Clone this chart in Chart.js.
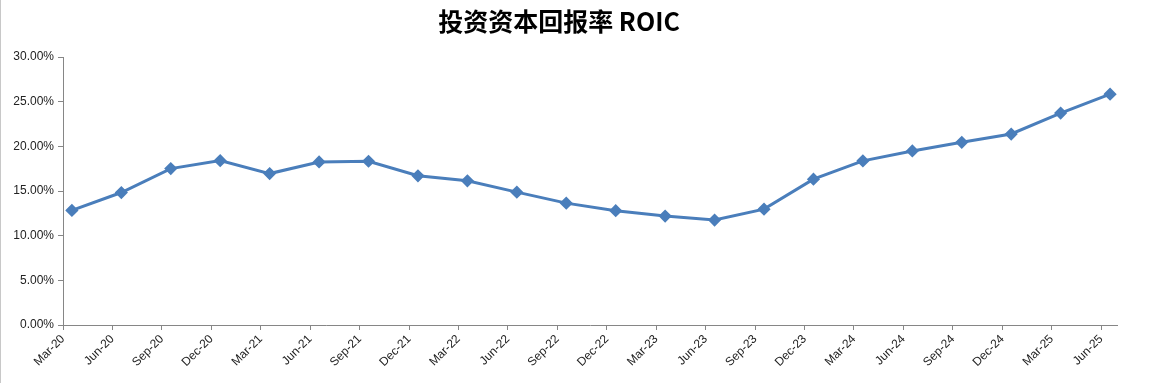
<!DOCTYPE html>
<html>
<head>
<meta charset="utf-8">
<script src="https://cdn.jsdelivr.net/npm/chart.js@4.4.1/dist/chart.umd.min.js"></script>
<style>
    html, body { margin: 0; padding: 0; background: #fff; }
    #wrap { position: relative; width: 1157px; height: 383px; border-left: 1px solid #c8c8c8; box-sizing: border-box; }
</style>
</head>
<body>
<div id="wrap"><canvas id="roicChart"></canvas></div>
<script>
// --- データ ---
const quarters = ['Mar-20', 'Jun-20', 'Sep-20', 'Dec-20', 'Mar-21', 'Jun-21', 'Sep-21', 'Dec-21',
    'Mar-22', 'Jun-22', 'Sep-22', 'Dec-22', 'Mar-23', 'Jun-23', 'Sep-23', 'Dec-23',
    'Mar-24', 'Jun-24', 'Sep-24', 'Dec-24', 'Mar-25', 'Jun-25'];
const roicValues = [12.83, 14.83, 17.51, 18.40, 16.95, 18.25, 18.33, 16.70,
    16.14, 14.87, 13.64, 12.79, 12.19, 11.75, 12.97, 16.32,
    18.37, 19.48, 20.45, 21.38, 23.72, 25.84];
const yTicks = [0, 5, 10, 15, 20, 25, 30];
const titleText = '投资资本回报率 ROIC';
// ---

const TICK_SHIFT = 0.18; // 目盛りは点の少し左
const AXIS_COLOR = '#868686';
const LINE_COLOR = '#4a7ebb';
const TICK_FONT = { family: '"Liberation Sans", sans-serif', size: 12 };

const points = roicValues.map((v, i) => ({ x: i, y: v }));

new Chart(document.getElementById('roicChart'), {
    type: 'line',
    data: {
        datasets: [{
            label: 'ROIC',
            data: points,
            borderColor: LINE_COLOR,
            backgroundColor: LINE_COLOR,
            borderWidth: 3,
            pointStyle: 'rectRot',
            pointRadius: 4.5,
            pointHoverRadius: 4.5,
            tension: 0,
            fill: false
        }]
    },
    options: {
        responsive: true,
        maintainAspectRatio: false,
        animation: false,
        layout: { padding: { left: 0, right: 40, top: 0, bottom: 0 } },
        plugins: {
            legend: { display: false },
            tooltip: { enabled: false },
            title: {
                display: true,
                text: titleText,
                color: '#000',
                font: { family: '"Noto Sans CJK SC", sans-serif', size: 25, weight: 'bold' },
                padding: { top: 6, bottom: 21 }
            }
        },
        scales: {
            x: {
                type: 'linear',
                min: -TICK_SHIFT,
                max: 21 + 0.14,
                afterBuildTicks: (scale) => {
                    scale.ticks = quarters.map((q, i) => ({ value: i - TICK_SHIFT }));
                },
                afterFit: (scale) => { scale.height = 58; },
                ticks: {
                    autoSkip: false,
                    minRotation: 45,
                    maxRotation: 45,
                    padding: 2,
                    color: '#222',
                    font: TICK_FONT,
                    callback: (value, index) => quarters[index]
                },
                grid: { drawOnChartArea: false, drawTicks: true, tickLength: 5, color: AXIS_COLOR },
                border: { display: true, color: AXIS_COLOR }
            },
            y: {
                min: 0,
                max: 30,
                afterBuildTicks: (scale) => {
                    scale.ticks = yTicks.map(v => ({ value: v }));
                },
                afterFit: (scale) => { scale.width = 62; },
                ticks: {
                    padding: 4,
                    color: '#222',
                    font: TICK_FONT,
                    callback: (value) => value.toFixed(2) + '%'
                },
                grid: { drawOnChartArea: false, drawTicks: true, tickLength: 5, color: AXIS_COLOR },
                border: { display: true, color: AXIS_COLOR }
            }
        }
    }
});
</script>
</body>
</html>
